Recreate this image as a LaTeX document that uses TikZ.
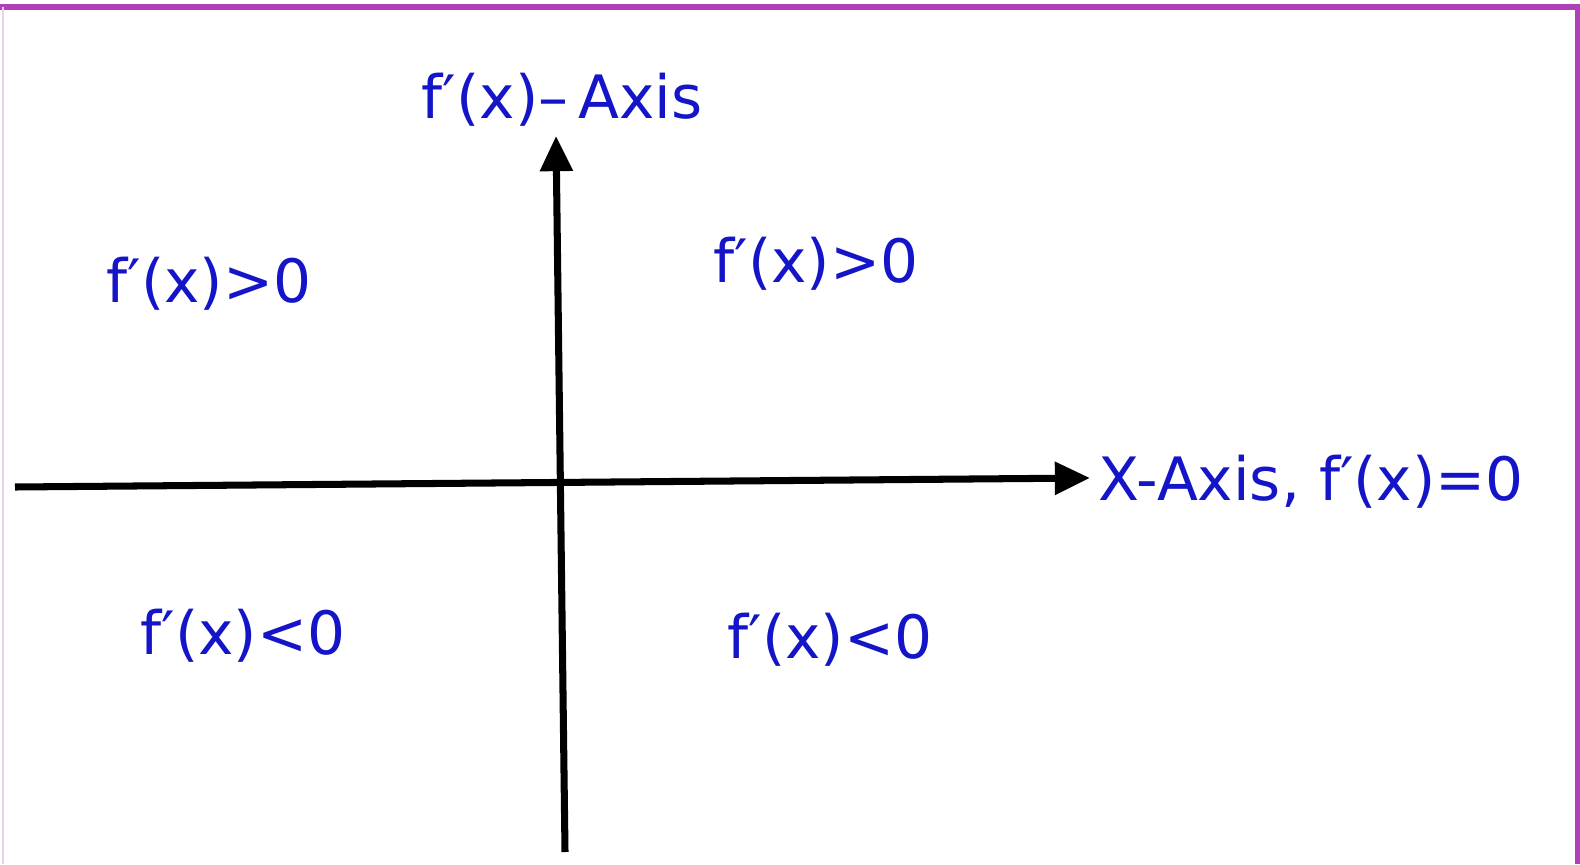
\documentclass[tikz,border=0pt]{standalone}
\usepackage{fontspec}
\setmainfont{DejaVu Sans}
\usetikzlibrary{arrows.meta}
\definecolor{ink}{HTML}{1414C8}
\definecolor{frame}{HTML}{B040B8}
\tikzset{
  lbl/.style={text=ink, font=\fontsize{17}{19}\selectfont, inner sep=0pt},
  axis/.style={line width=2pt, -{Triangle[length=10pt,width=9pt]}}
}
\begin{document}
\begin{tikzpicture}[x=0.01cm,y=-0.01cm]
\useasboundingbox (0,0) rectangle (1580,864);
\fill[white] (0,0) rectangle (1580,864);
\draw[frame, line width=1.6pt] (0,7) -- (1578,7) -- (1578,864);
\draw[frame!25, line width=0.8pt] (3,7) -- (3,864);
\coordinate (xs) at (15,487);
\coordinate (xe) at (1090,478);
\coordinate (ys) at (565,852);
\coordinate (ye) at (556,136);
\draw[axis] (xs) -- (xe);
\draw[axis] (ys) -- (ye);
\node[lbl] (ylab) at (562,100) {f′(x)–\,Axis};
\node[lbl, anchor=west] (xlab) at (1098,482) {X-Axis, f′(x)=0};
\node[lbl] (q2) at (209,284) {f′(x)>0};
\node[lbl] (q1) at (816,264) {f′(x)>0};
\node[lbl] (q3) at (243,636) {f′(x)<0};
\node[lbl] (q4) at (830,640) {f′(x)<0};
\end{tikzpicture}
\end{document}
